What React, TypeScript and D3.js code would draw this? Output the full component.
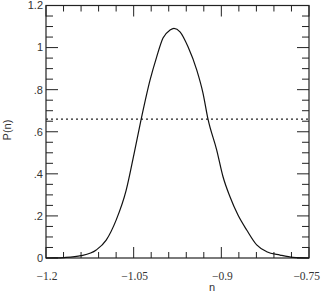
import React, { useEffect, useRef } from 'react';
import * as d3 from 'd3';

// probability distribution P(n)
const nValues = [-1.2, -1.18, -1.169, -1.14, -1.114, -1.097, -1.08, -1.063, -1.049, -1.0375, -1.022, -1.0106, -0.9998, -0.9878, -0.981, -0.9707, -0.957, -0.942, -0.9314, -0.9228, -0.9079, -0.8971, -0.8852, -0.8715, -0.8566, -0.8395, -0.8224, -0.7996, -0.7774, -0.75];
const pValues = [0, 0.0005, 0.002, 0.011, 0.038, 0.085, 0.18, 0.32, 0.5, 0.655, 0.845, 0.956, 1.045, 1.083, 1.091, 1.075, 1.004, 0.893, 0.784, 0.66, 0.513, 0.386, 0.291, 0.204, 0.133, 0.062, 0.03, 0.014, 0.003, 0];
const refLevel = 0.66;

const xMajor = [-1.2, -1.05, -0.9, -0.75];
const xMajorLabels = ['\u22121.2', '\u22121.05', '\u22120.9', '\u22120.75'];
const yMajor = [0, 0.2, 0.4, 0.6, 0.8, 1, 1.2];
const yMajorLabels = ['0', '.2', '.4', '.6', '.8', '1', '1.2'];

export default function App() {
  const ref = useRef<SVGSVGElement | null>(null);

  useEffect(() => {
    const width = 322, height = 295;
    const left = 46, right = 309, top = 5.5, bottom = 258;
    const svg = d3.select(ref.current);
    svg.selectAll('*').remove();

    const x = d3.scaleLinear().domain([-1.2, -0.75]).range([left, right]);
    const y = d3.scaleLinear().domain([0, 1.2]).range([bottom, top]);

    const xMinor = d3.range(0, 16).map(i => -1.2 + i * 0.03);
    const yMinor = d3.range(0, 25).map(i => i * 0.05);
    const major = 11, minor = 6;
    const tickColor = '#222';
    const sans = "'Liberation Sans', Arial, Helvetica, sans-serif";
    const serif = "'Liberation Serif', 'Times New Roman', Times, serif";

    // frame
    svg.append('rect')
      .attr('x', left).attr('y', top)
      .attr('width', right - left).attr('height', bottom - top)
      .attr('fill', 'none').attr('stroke', tickColor).attr('stroke-width', 1.2);

    // ticks on all four sides, pointing inward
    const isMajor = (v: number, arr: number[]) => arr.some(m => Math.abs(m - v) < 1e-6);
    xMinor.forEach(v => {
      const len = isMajor(v, xMajor) ? major : minor;
      svg.append('line').attr('x1', x(v)).attr('x2', x(v)).attr('y1', bottom).attr('y2', bottom - len)
        .attr('stroke', tickColor).attr('stroke-width', 1);
      svg.append('line').attr('x1', x(v)).attr('x2', x(v)).attr('y1', top).attr('y2', top + len)
        .attr('stroke', tickColor).attr('stroke-width', 1);
    });
    yMinor.forEach(v => {
      const len = isMajor(v, yMajor) ? major + 1 : minor + 1;
      svg.append('line').attr('y1', y(v)).attr('y2', y(v)).attr('x1', left).attr('x2', left + len)
        .attr('stroke', tickColor).attr('stroke-width', 1);
      svg.append('line').attr('y1', y(v)).attr('y2', y(v)).attr('x1', right).attr('x2', right - len)
        .attr('stroke', tickColor).attr('stroke-width', 1);
    });

    // tick labels (last one kept inside the picture)
    const last = xMajor.length - 1;
    svg.append('g').selectAll('text').data(xMajor).join('text')
      .attr('x', (d, i) => i === last ? 320 : x(d) + 1).attr('y', 280)
      .attr('text-anchor', (d, i) => i === last ? 'end' : 'middle')
      .style('font-family', serif)
      .style('font-size', '11.5px').attr('fill', '#333')
      .text((d, i) => xMajorLabels[i]);

    svg.append('g').selectAll('text').data(yMajor).join('text')
      .attr('x', 43).attr('y', d => y(d))
      .attr('dy', '0.35em')
      .attr('text-anchor', 'end')
      .style('font-family', sans)
      .style('font-size', '11px').attr('fill', '#333')
      .text((d, i) => yMajorLabels[i]);

    // axis titles
    svg.append('text')
      .attr('x', 212).attr('y', 291)
      .attr('text-anchor', 'middle')
      .style('font-family', sans)
      .style('font-size', '11px').attr('fill', '#333')
      .text('n');

    svg.append('text')
      .attr('transform', 'translate(11,130) rotate(-90)')
      .attr('text-anchor', 'middle')
      .style('font-family', sans)
      .style('font-size', '11px').attr('fill', '#333')
      .text('P(n)');

    // dotted reference level
    svg.append('line')
      .attr('x1', left).attr('x2', right)
      .attr('y1', y(refLevel)).attr('y2', y(refLevel))
      .attr('stroke', '#222').attr('stroke-width', 1.1)
      .attr('stroke-dasharray', '2,3');

    // distribution curve
    const pts = nValues.map((n, i) => [n, pValues[i]] as [number, number]);
    const line = d3.line<[number, number]>()
      .x(d => x(d[0]))
      .y(d => y(d[1]))
      .curve(d3.curveMonotoneX);

    svg.append('path')
      .attr('d', line(pts))
      .attr('fill', 'none')
      .attr('stroke', '#111')
      .attr('stroke-width', 1.2);

    svg.attr('width', width).attr('height', height);
  }, []);

  return (
    <svg ref={ref} width={322} height={295}
      style={{ position: 'absolute', left: 0, top: 0, background: '#fff' }} />
  );
}
